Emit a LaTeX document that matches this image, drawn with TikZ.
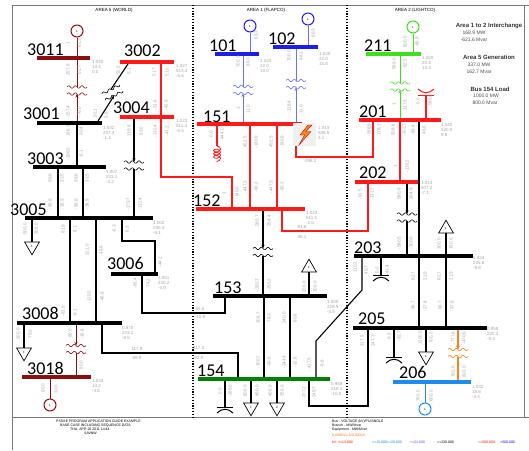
\documentclass[tikz,border=0pt]{standalone}
\usepackage{fontspec}
\setmainfont{Liberation Sans}
\newfontfamily\busfont{Carlito}
\usetikzlibrary{positioning,calc,shapes.geometric,arrows.meta,decorations.pathmorphing}
\definecolor{maroonbus}{RGB}{140,15,15}
\definecolor{redbus}{RGB}{255,25,25}
\definecolor{bluebus}{RGB}{30,30,235}
\definecolor{bluebranch}{RGB}{110,110,255}
\definecolor{greenbus}{RGB}{60,225,30}
\definecolor{darkgreenbus}{RGB}{0,130,0}
\definecolor{skybus}{RGB}{30,140,235}
\definecolor{orangexf}{RGB}{255,130,20}
\definecolor{valgray}{RGB}{165,165,165}
\definecolor{framegray}{RGB}{120,120,120}
% two wavy windings with a coordinate on each side
\newcommand{\xfmr}[4]{%
  \begin{scope}[shift={(#2)}, rotate=#4]
    \draw[#3, line width=0.6pt] plot[domain=-10:10, samples=41] (\x, {-3.5+1.2*sin(\x*54)});
    \draw[#3, line width=0.6pt] plot[domain=-10:10, samples=41] (\x, {3.5+1.2*sin(\x*54)});
    \coordinate (#1-t) at (0,-3.5);
    \coordinate (#1-b) at (0,3.5);
  \end{scope}}
% shunt capacitor: plate and curved plate
\newcommand{\capsym}[4]{%
  \coordinate (#1) at (#2);
  \draw[#3] ($(#1)+(-8,0)$) -- ($(#1)+(8,0)$);
  \draw[#3] ($(#1)+(-8,{#4*6})$) .. controls ($(#1)+(-3,{#4*1})$) and ($(#1)+(3,{#4*1})$) .. ($(#1)+(8,{#4*6})$);}

\begin{document}
\begin{tikzpicture}[x=1pt, y=-1pt, >={Stealth[length=3.5pt,width=3pt]}]
        \tikzstyle{bus}=[rectangle, inner sep=0pt, minimum height=3.6pt];
        \tikzstyle{busname}=[font=\busfont\fontsize{18}{18}\selectfont, anchor=base west, inner sep=0pt];
        \tikzstyle{gen}=[circle, draw, line width=1pt, minimum size=12pt, inner sep=0pt, font=\fontsize{3}{3}\selectfont];
        \tikzstyle{load}=[regular polygon, regular polygon sides=3, draw, line width=0.7pt, minimum size=17pt, inner sep=0pt, font=\fontsize{3}{3}\selectfont];
        \tikzstyle{blk}=[line width=1.1pt];
        \tikzstyle{rd}=[line width=1.3pt, redbus];
        \tikzstyle{mar}=[line width=0.7pt, maroonbus];
        \tikzstyle{blu}=[line width=0.8pt, bluebranch];
        \tikzstyle{grn}=[line width=1pt, greenbus];
        \tikzstyle{val}=[font=\fontsize{4.5}{5}\selectfont, text=valgray, inner sep=0pt];
        \tikzstyle{flow}=[val, rotate=90];
        \tikzstyle{volt}=[val, align=left, anchor=north west];
        \tikzstyle{area}=[font=\fontsize{4.5}{5}\selectfont, inner sep=0pt];
        \tikzstyle{sumhead}=[font=\bfseries\fontsize{6}{6}\selectfont, text=black!80, inner sep=0pt];
        \tikzstyle{sumval}=[font=\fontsize{5}{5}\selectfont, text=black!70, inner sep=0pt];
        \tikzstyle{tiny}=[font=\fontsize{3.5}{4}\selectfont, inner sep=0pt, anchor=base west];
        \useasboundingbox (0,0) rectangle (529,450);

        % frame and area borders
        \draw[framegray, line width=0.8pt] (12,450) -- (12,5) -- (529,5);
        \draw[framegray, line width=0.6pt] (524,5) -- (524,417);
        \draw[framegray, line width=0.8pt] (12,417) -- (529,417);
        \draw[line width=1.2pt, dash pattern=on 1.2pt off 1.6pt] (193,5) -- (193,417);
        \draw[line width=1.2pt, dash pattern=on 1.2pt off 1.6pt] (347,5) -- (347,417);
        \node[area] (A5) at (114,10) {AREA 5 (WORLD)};
        \node[area] (A1) at (266,10) {AREA 1 (FLAPCO)};
        \node[area] (A2) at (415,10) {AREA 2 (LIGHTCO)};

        % bus bars
        \foreach \name/\xa/\xb/\y/\col in {3011/37/90/58/maroonbus, 3002/120/174/62/redbus,
                3001/37/102/123/black, 3004/120/174/117/redbus, 3003/33/106/167/black,
                3005/25/153/218/black, 3006/111/158/274/black, 3008/17/122/323/black,
                3018/22/91/377/maroonbus, 101/215/259/54/bluebus, 102/273/318/47/bluebus,
                151/197/302/124/redbus, 152/196/305/209/redbus, 153/213/327/296/black,
                154/198/330/379/darkgreenbus, 211/366/421/54/greenbus, 201/359/441/120/redbus,
                202/355/420/182/redbus, 203/354/473/256/black, 205/353/487/328/black,
                206/393/471/382/skybus}
            \node[bus, fill=\col, minimum width={(\xb-\xa)*1pt}] (B\name) at ({(\xa+\xb)/2},\y) {};
        % bus names
        \foreach \name/\x/\y in {3011/27/55, 3002/124/56, 3001/23/119, 3004/113/113, 3003/27/164,
                3005/10/215, 3006/107/269, 3008/22/319, 3018/27/374, 101/209/51, 102/268/44,
                151/203/122, 152/193/206, 153/214/293, 154/197/376, 211/364/51, 201/359/117,
                202/359/178, 203/354/253, 205/358/324, 206/399/378}
            \node[busname] (N\name) at (\x,\y) {\name};
        % bus voltage / kV / angle
        \foreach \name/\x/\y/\pu/\kv/\ang in {3011/92/60/1.040/14.4/0.0, 3002/176/64/1.027/513.4/-5.6,
                3004/176/119/1.023/511.4/-5.5, 3001/103/126/1.032/237.3/-1.4, 3003/106/170/1.007/231.1/-3.2,
                3005/153/221/1.002/230.4/-5.1, 3006/158/276/1.001/230.2/-4.9, 3008/122/326/0.970/223.1/-8.5,
                3018/92/379/1.034/14.2/-4.6, 101/260/59/1.020/22.0/19.0, 102/319/52/1.020/22.0/15.8,
                151/318/126/1.013/506.5/3.1, 152/306/211/1.023/511.5/-2.6, 153/327/300/1.000/229.9/-3.5,
                154/331/382/0.948/218.1/-10.0, 211/422/56/1.020/20.4/13.4, 201/441/123/1.040/520.0/9.8,
                202/421/181/1.014/507.2/-7.1, 203/473/256/1.024/235.6/-9.8, 205/487/327/0.958/220.3/-9.3,
                206/472/385/1.032/18.6/-3.4}
            \node[volt] (V\name) at (\x,\y) {\pu\\\kv\\\ang};

        % generators
        \node[gen, draw=maroonbus] (G3011) at (77,31) {1};
        \node[gen, draw=maroonbus] (G3018) at (50,405) {1};
        \node[gen, draw=bluebus] (G101) at (250,26) {1};
        \node[gen, draw=bluebus] (G102) at (308,19) {1};
        \node[gen, draw=greenbus] (G211) at (413,27) {1};
        \node[gen, draw=skybus] (G206) at (425,409) {1};
        \draw[mar] (G3011.south) -- (B3011.north -| G3011.south);
        \draw[mar] (B3018.south -| G3018.north) -- (G3018.north);
        \draw[blu] (G101.south) -- (B101.north -| G101.south);
        \draw[blu] (G102.south) -- (B102.north -| G102.south);
        \draw[grn] (G211.south) -- (B211.north -| G211.south);
        \draw[skybus, line width=1pt] (B206.south -| G206.north) -- (G206.north);

        % loads
        \node[load, shape border rotate=180] (L3005) at (32,246.3) {1};
        \node[load, shape border rotate=180] (L3008) at (24,352.3) {1};
        \node[load, shape border rotate=180] (L154a) at (251,407.3) {1};
        \node[load, shape border rotate=180] (L154b) at (277,407.3) {2};
        \node[load, shape border rotate=180] (L205) at (426,356.3) {1};
        \node[load] (L153) at (309,267.7) {1};
        \node[load] (L203) at (446,228.7) {1};
        \draw[blk] (B3005.south -| L3005.north) -- (L3005.north);
        \draw[blk] (B3008.south -| L3008.north) -- (L3008.north);
        \draw[blk] (B154.south -| L154a.north) -- (L154a.north);
        \draw[blk] (B154.south -| L154b.north) -- (L154b.north);
        \draw[blk] (B205.south -| L205.north) -- (L205.north);
        \draw[blk] (B153.north -| L153.south) -- (L153.south);
        \draw[blk] (B203.north -| L203.south) -- (L203.south);

        % shunts
        \capsym{C154}{225,407}{line width=1pt}{1}
        \capsym{C205}{394,357}{line width=1pt}{1}
        \capsym{C203}{381,275}{line width=1pt}{1}
        \capsym{C201}{426,95}{line width=1pt, redbus}{-1}
        \draw[blk] (B154.south -| C154) -- (C154);
        \draw[blk] (B205.south -| C205) -- (C205);
        \draw[blk] (B203.south -| C203) -- (C203);
        \draw[rd] (B201.north -| C201) -- (C201);
        \coordinate (R151a) at (217,146);
        \coordinate (R151b) at (217,162);
        \draw[rd] (B151.south -| R151a) -- (R151a);
        \draw[redbus, line width=0.8pt, decorate, decoration={coil, aspect=0.6, segment length=3.2pt, amplitude=3.5pt}] (R151a) -- (R151b);

        % transformers
        \xfmr{T3011}{77,90.5}{maroonbus}{0}
        \xfmr{T3002}{112.5,92.5}{black}{27}
        \xfmr{T3004}{134,165.5}{black}{0}
        \xfmr{T3008}{76,349}{maroonbus}{0}
        \xfmr{T101}{243,90}{bluebranch}{0}
        \xfmr{T102}{296,84}{bluebranch}{0}
        \xfmr{T152}{263,252}{black}{0}
        \xfmr{T211}{400,86.5}{greenbus}{0}
        \xfmr{T202}{407,217.5}{black}{0}
        \xfmr{T205}{458,353}{orangexf}{0}
        \draw[mar] (B3011.south -| T3011-t) -- (T3011-t);
        \draw[mar, ->] (B3001.north -| T3011-b) -- (T3011-b);
        \draw[blk] (B3002.south -| 128,0) -- (T3002-t);
        \draw[blk, ->] (B3001.north -| 98,0) -- (T3002-b);
        \draw[blk, ->] (B3004.south -| T3004-t) -- (T3004-t);
        \draw[blk] (T3004-b) -- (B3005.north -| T3004-b);
        \draw[mar, ->] (B3008.south -| T3008-t) -- (T3008-t);
        \draw[mar] (T3008-b) -- (B3018.north -| T3008-b);
        \draw[blu] (B101.south -| T101-t) -- (T101-t);
        \draw[blu, ->] (B151.north -| T101-b) -- (T101-b);
        \draw[blu] (B102.south -| T102-t) -- (T102-t);
        \draw[blu, ->] (B151.north -| T102-b) -- (T102-b);
        \draw[blk, ->] (B152.south -| T152-t) -- (T152-t);
        \draw[blk] (T152-b) -- (B153.north -| T152-b);
        \draw[grn] (B211.south -| T211-t) -- (T211-t);
        \draw[grn, ->] (B201.north -| T211-b) -- (T211-b);
        \draw[blk, ->] (B202.south -| T202-t) -- (T202-t);
        \draw[blk] (T202-b) -- (B203.north -| T202-b);
        \draw[orangexf, line width=2.6pt, -{Stealth[length=4pt,width=4pt]}] (B205.south -| T205-t) -- (T205-t);
        \draw[orangexf, line width=2.6pt] (T205-b) -- (B206.north -| T205-b);

        % area 5 lines
        \draw[blk] (B3001.south -| 77,0) -- (B3003.north -| 77,0);
        \foreach \x in {58,83}
            \draw[blk] (B3003.south -| \x,0) -- (B3005.north -| \x,0);
        \draw[rd] (B3002.south -| 161,0) -- (B3004.north -| 161,0);
        \draw[rd] (B3004.south -| 161,0) |- (232,177) -- (B152.north -| 232,0);
        \draw[blk] (B3005.south -| 122,0) |- (155,241) -- (B3006.north -| 155,0);
        \foreach \x in {70,96}
            \draw[blk] (B3005.south -| \x,0) -- (B3008.north -| \x,0);
        \draw[blk] (B3006.south -| 142,0) |- (225,313) -- (B153.south -| 225,0);
        \draw[blk] (B3008.south -| 102,0) |- (238,353) -- (B154.north -| 238,0);

        % area 1 lines
        \foreach \x in {250,277}
            \draw[rd] (B151.south -| \x,0) -- (B152.north -| \x,0);
        \draw[rd] (B151.south -| 296,0) |- (373,157) -- (B201.south -| 373,0);
        \draw[rd] (B152.south -| 282,0) |- (368,231) -- (B202.south -| 368,0);
        \foreach \x in {264,290}
            \draw[blk] (B153.south -| \x,0) -- (B154.north -| \x,0);
        \draw[blk] (B203.south -| 362,0) -- (362,290) -- (316,341) -- (B154.north -| 316,0);
        \draw[blk] (B154.south -| 309,0) |- (368,406) -- (B205.south -| 368,0);

        % area 2 lines
        \draw[rd] (B201.south -| 400,0) -- (B202.north -| 400,0);
        \draw[blk] (B201.south -| 419,0) -- (B205.north -| 419,0);
        \draw[blk] (B203.south -| 446,0) -- (B205.north -| 446,0);

        % fault marker on bus 151
        \fill[black!6] (293,123) rectangle (316,146);
        \fill[orangexf, draw=red!70!black, line width=0.3pt] (308,125) -- (300,135) -- (304.5,135) -- (299,145) -- (311,131.5) -- (306,131.5) -- (312,125) -- cycle;

        % branch and equipment flows (MW / Mvar)
        \foreach \x/\y/\t [count=\i] in {68/43/1, 79/43/62.3, 68/70/257.8, 79/70/62.7, 68/112/-257.4,
                79/112/-76.0, 118/71/-92.0, 129/71/5.1, 95/113/92.1, 106/115/3.6, 154/72/51.7, 167/72/51.0,
                155/105/-51.6, 166/105/-42.9, 129/131/139.8, 141/131/63.0, 155/131/-132.4, 167/131/-47.2,
                68/131/196.2, 81/131/30.4, 68/154/-196.0, 81/154/-6.1, 50/178/99.8, 62/178/33.5,
                76/178/99.8, 87/178/33.5, 50/204/-99.8, 62/204/-38.9, 76/204/-99.8, 87/204/-38.9,
                128/204/-179.7, 140/204/-122.4, 25/229/500.0, 36/229/300.0, 63/229/81.9, 75/229/9.1,
                114/229/-6.3, 127/229/6.3, 87/250/121.0, 101/250/46.6, 160/262/-44.2, 135/283/-65.4,
                148/283/74.2, 89/297/-120.0, 102/297/-46.8, 63/311/-81.9, 75/313/-9.1, 18/334/200.0,
                30/334/75.0, 70/334/-80.0, 82/334/-16.6, 81/365/80.0, 43/388/80.0, 56/389/30.0,
                256/35/69.3, 313/33/69.3, 238/62/700.0, 248/62/88.3, 289/56/700.0, 301/56/88.3,
                238/108/1, 248/109/11.0, 289/107/-128.4, 301/109/11.0, 211/134/0.0, 222/134/444.0,
                245/142/452.5, 256/142/-180.9, 271/142/452.5, 282/142/-180.9, 245/187/-447.3,
                256/187/-90.2, 271/187/-447.3, 282/187/-90.2, 224/193/1, 237/193/-140.0,
                257/221/280.7, 269/221/254.4, 257/285/-280.7, 269/285/-255.2, 304/287/200.0,
                315/287/100.0, 258/318/306.7, 269/318/78.3, 284/318/240.0, 295/318/80.8,
                258/362/-300.7, 269/362/-80.6, 284/362/-244.4, 295/362/-32.8, 309/364/-417.5,
                322/364/-9.6, 220/391/0.0, 230/391/-285.0, 245/391/600.0, 257/391/450.0,
                270/391/400.0, 282/391/350.0, 304/393/-377.2, 314/393/-249.7,
                405/42/600.0, 417/42/-65.9, 394/64/580.0, 405/64/-62.5, 394/104/1, 405/105/117.5,
                418/101/0.0, 430/101/-595.0, 369/130/-568.8, 379/130/178.7, 393/130/508.8,
                404/130/-102.7, 413/130/-68.4, 424/130/46.8, 395/166/1, 407/166/-136.2,
                360/194/-91.5, 372/194/-133.7, 399/194/580.8, 411/194/284.9, 399/243/-580.5,
                411/243/-300.0, 439/244/300.0, 451/244/150.0, 355/267/110.2, 366/270/40.7,
                377/270/0.0, 387/270/-41.4, 413/276/82.7, 425/276/21.9, 439/276/82.7, 451/276/21.9,
                413/306/-96.7, 425/306/-27.8, 440/306/-96.7, 452/306/-37.8, 362/341/317.5,
                373/341/247.3, 389/336/0.0, 399/336/-91.7, 420/338/1200.0, 431/338/700.0,
                453/338/-777.6, 464/338/-470.9, 453/372/780.0, 464/372/600.0, 418/396/780.0,
                431/396/600.0}
            \node[flow] (F\i) at (\x,\y) {\t};
        \foreach \x/\y/\t [count=\i] in {137/349/117.9, 137/358/69.9, 200/309/65.5, 200/317/-10.8,
                198/348/-117.3, 198/358/-92.8, 310/161/-298.2, 302/227/81.6, 302/237/38.1}
            \node[val] (H\i) at (\x,\y) {\t};

        % summary
        \node[sumhead] (S1) at (489,26) {Area 1 to 2 Interchange};
        \node[sumval] (S1a) at (474,33) {168.9 MW};
        \node[sumval] (S1b) at (474,40) {-621.6 Mvar};
        \node[sumhead] (S2) at (489,57) {Area 5 Generation};
        \node[sumval] (S2a) at (479,65) {337.0 MW};
        \node[sumval] (S2b) at (479,72) {162.7 Mvar};
        \node[sumhead] (S3) at (490,89) {Bus 154 Load};
        \node[sumval] (S3a) at (486,96) {1000.0 MW};
        \node[sumval] (S3b) at (485,103) {800.0 Mvar};

        % bottom captions
        \node[tiny] (C1) at (56,422) {PSS\textregistered E PROGRAM APPLICATION GUIDE EXAMPLE};
        \node[tiny] (C2) at (60,426) {BASE CASE INCLUDING SEQUENCE DATA};
        \node[tiny] (C3) at (70,430) {THU, APR 28 2011  14:44};
        \node[tiny] (C4) at (84,434) {SAVNW};
        \node[tiny] (K1) at (332,422) {Bus - VOLTAGE (kV)/PU/ANGLE};
        \node[tiny] (K2) at (332,426) {Branch - MW/Mvar};
        \node[tiny] (K3) at (332,430) {Equipment - MW/Mvar};
        \node[tiny, text=orange!90!red] (K4) at (332,436) {0.000OV1.5/0.000UV};
        \node[tiny, text=red] (K5) at (332,443) {kV: <=13.800};
        \node[tiny, text=cyan!70!blue] (K6) at (372,443) {<=15.000<=20.000};
        \node[tiny, text=blue!70] (K7) at (410,443) {<=21.600};
        \node[tiny] (K8) at (437,443) {<=230.000};
        \node[tiny, text=red] (K9) at (478,443) {<=500.000};
        \node[tiny, text=blue] (K10) at (500,443) {>500.000};
\end{tikzpicture}
\end{document}
